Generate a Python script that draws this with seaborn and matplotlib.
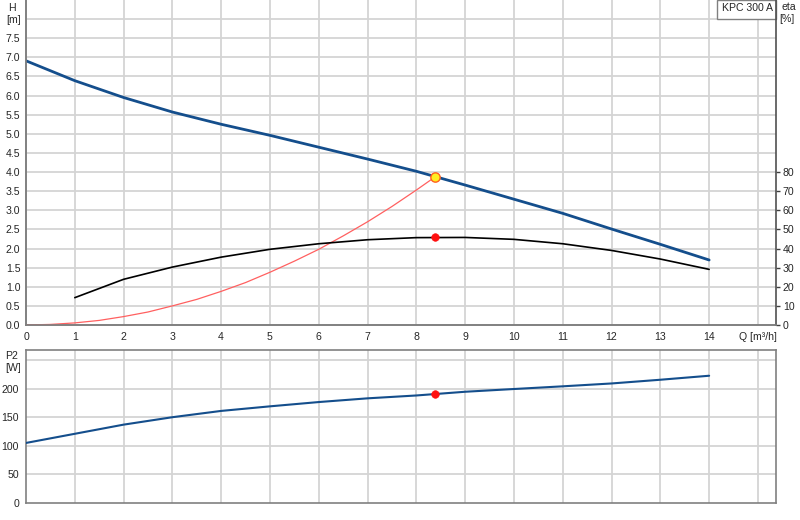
import matplotlib
matplotlib.use("Agg")
import matplotlib.pyplot as plt
import seaborn as sns
import pandas as pd
from matplotlib.patches import Rectangle

# ---- data ----
q_h = [0, 1, 2, 3, 4, 5, 6, 7, 8, 9, 10, 11, 12, 13, 14]
h_vals = [6.91, 6.39, 5.95, 5.57, 5.25, 4.96, 4.65, 4.34, 4.02, 3.66, 3.29, 2.92, 2.51, 2.11, 1.70]

q_eta = [1, 2, 3, 4, 5, 6, 7, 8, 9, 10, 11, 12, 13, 14]
eta_vals = [14.3, 23.9, 30.3, 35.5, 39.6, 42.5, 44.6, 45.7, 45.8, 44.8, 42.5, 39.0, 34.5, 29.1]

q_sys = [0, 0.5, 1, 1.5, 2, 2.5, 3, 3.5, 4, 4.5, 5, 5.5, 6, 6.5, 7, 7.5, 8, 8.38]
h_sys = [0, 0.015, 0.055, 0.12, 0.22, 0.34, 0.50, 0.67, 0.88, 1.11, 1.38, 1.67, 1.98, 2.33, 2.70, 3.10, 3.53, 3.87]

q_p2 = [0, 1, 2, 3, 4, 5, 6, 7, 8, 9, 10, 11, 12, 13, 14]
p2_vals = [105, 121, 137, 150, 161, 169, 176.5, 183, 188, 194.5, 199.3, 204, 209, 215.5, 222.5]

duty_q = [8.38]
duty_h = [3.87]
duty_eta = [46.0]
duty_p2 = [191.0]

x_ticks = list(range(0, 15))
h_ticks = [0.0, 0.5, 1.0, 1.5, 2.0, 2.5, 3.0, 3.5, 4.0, 4.5, 5.0, 5.5, 6.0, 6.5, 7.0, 7.5]
eta_ticks = [0, 10, 20, 30, 40, 50, 60, 70, 80]
p2_ticks = [0, 50, 100, 150, 200]
title_text = "KPC 300 A"

# ---- style ----
sns.set_style("white")
plt.rcParams['font.family'] = ['Liberation Sans', 'DejaVu Sans']
FS = 7.6
plt.rcParams['font.size'] = FS

BLUE = "#144e8c"
GRID = "#d4d4d4"
SPINE = "#808080"

fig = plt.figure(figsize=(8, 5.2), dpi=100)
ax = fig.add_axes([26/800, 1-325/520, 750/800, 325/520])
ax2 = ax.twinx()
axb = fig.add_axes([26/800, 1-503/520, 750/800, 153/520])

XMAX = 15.37
# top panel
ax.set_xlim(0, XMAX)
ax.set_ylim(0, 8.5)
ax2.set_ylim(0, 170)

for xv in range(1, 16):
    ax.axvline(xv, color=GRID, lw=1.3, zorder=0)
for yv in [0.5*i for i in range(1, 17)]:
    ax.axhline(yv, color=GRID, lw=1.3, zorder=0)

sns.lineplot(x=q_sys, y=h_sys, ax=ax, color="#ff6060", lw=0.9, zorder=3)
sns.lineplot(x=q_h, y=h_vals, ax=ax, color=BLUE, lw=2.0, zorder=4)
sns.lineplot(x=q_eta, y=eta_vals, ax=ax2, color="black", lw=1.2, zorder=4)
sns.scatterplot(x=duty_q, y=duty_eta, ax=ax2, color="#ff1010", s=30, edgecolor="#ff1010", zorder=6)
sns.scatterplot(x=duty_q, y=duty_h, ax=ax, color="#ffee22", s=45, edgecolor="#ff6020", linewidth=1.0, zorder=6)

ax.set_xticks(x_ticks + [15])
ax.set_xticklabels([str(v) for v in x_ticks] + ["Q [m\u00b3/h]"])
ax.set_yticks(h_ticks)
ax.set_yticklabels([f"{v:.1f}" for v in h_ticks])
ax2.set_yticks(eta_ticks)
ax2.set_yticklabels([str(v) for v in eta_ticks])
ax.tick_params(axis="x", length=3, width=1, color=SPINE, pad=2, labelsize=FS)
ax.tick_params(axis="y", length=0, pad=4, labelsize=FS)
ax2.tick_params(axis="y", length=3, width=1, color="#404040", pad=2, labelsize=FS)
ax.set_xlabel("")
ax.set_ylabel("")
ax2.set_ylabel("")

for a in (ax, ax2):
    a.spines["top"].set_visible(False)
    a.spines["left"].set_color(SPINE)
    a.spines["bottom"].set_color(SPINE)
    a.spines["right"].set_color("#505050")
    for s in a.spines.values():
        s.set_linewidth(1.2)
ax.spines["right"].set_visible(False)

# title box
ax.add_patch(Rectangle((691/750, 1-19/325), 59/750, 19/325, transform=ax.transAxes,
                       facecolor="white", edgecolor=SPINE, lw=1.0, zorder=7, clip_on=False))
ax.text(721/750, 1-8/325, title_text, transform=ax.transAxes, ha="center", va="center",
        fontsize=FS, zorder=8)

fig.text(12/800, 1-8/520, "H", ha="center", va="center", fontsize=FS)
fig.text(14/800, 1-20/520, "[m]", ha="center", va="center", fontsize=FS)
fig.text(789/800, 1-7/520, "eta", ha="center", va="center", fontsize=FS)
fig.text(787/800, 1-19/520, "[%]", ha="center", va="center", fontsize=FS)

# bottom panel
axb.set_xlim(0, XMAX)
axb.set_ylim(0, 267.5)
for xv in range(1, 16):
    axb.axvline(xv, color=GRID, lw=1.3, zorder=0)
for yv in [50, 100, 150, 200, 250]:
    axb.axhline(yv, color=GRID, lw=1.3, zorder=0)
sns.lineplot(x=q_p2, y=p2_vals, ax=axb, color=BLUE, lw=1.5, zorder=4)
sns.scatterplot(x=duty_q, y=duty_p2, ax=axb, color="#ff1010", s=30, edgecolor="#ff1010", zorder=6)
axb.set_xticks(list(range(0, 16)))
axb.set_xticklabels([])
axb.set_yticks(p2_ticks + [250])
axb.set_yticklabels([str(v) for v in p2_ticks] + [""])
axb.tick_params(axis="x", length=0)
axb.tick_params(axis="y", length=3, width=1, color="#404040", pad=2, labelsize=FS)
axb.set_xlabel("")
axb.set_ylabel("")
for s in axb.spines.values():
    s.set_color(SPINE)
    s.set_linewidth(1.2)
    s.set_visible(True)

fig.text(12/800, 1-356/520, "P2", ha="center", va="center", fontsize=FS)
fig.text(13/800, 1-368/520, "[W]", ha="center", va="center", fontsize=FS)

fig.savefig("out.png", dpi=100)
